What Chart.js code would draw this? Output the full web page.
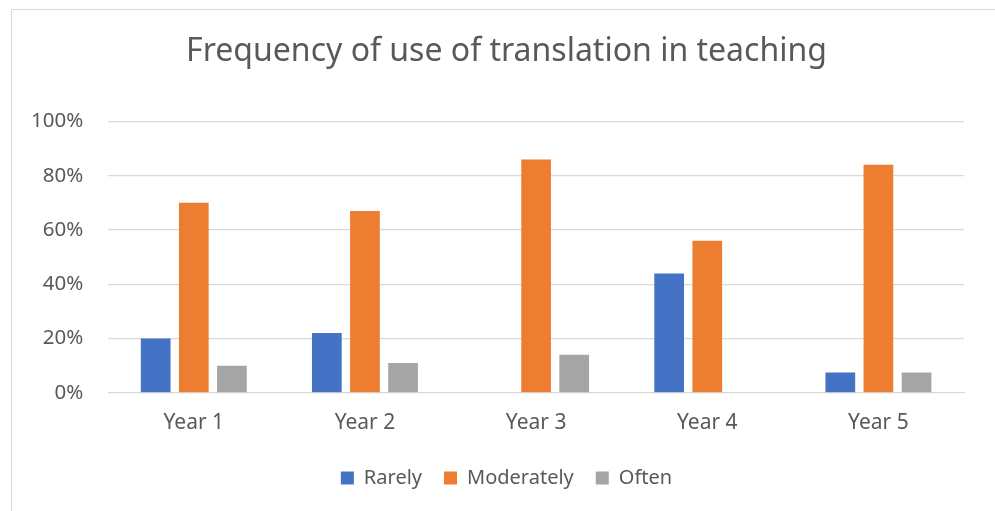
<!DOCTYPE html>
<html>
<head>
<meta charset="utf-8">
<script src="https://cdn.jsdelivr.net/npm/chart.js@4.4.1/dist/chart.umd.min.js"></script>
<style>
    html, body { margin: 0; padding: 0; background: #fff; overflow: hidden; }
    #frame { position: absolute; left: 11px; top: 9px; width: 1000px; height: 520px; border: 1px solid #d9d9d9; }
    #wrap { position: absolute; left: 0; top: 0; width: 1007px; height: 511px; }
</style>
</head>
<body>
<div id="frame"></div>
<div id="wrap"><canvas id="freqChart"></canvas></div>
<script>
const years = ['Year 1', 'Year 2', 'Year 3', 'Year 4', 'Year 5'];
const rarely = [20, 22, 0, 44, 7.5];
const moderately = [70, 67, 86, 56, 84];
const often = [10, 11, 14, 0, 7.5];
const yTicks = [0, 20, 40, 60, 80, 100];

const textColor = '#595959';
const fontFamily = '"Noto Sans", "Open Sans", sans-serif';

document.addEventListener("DOMContentLoaded", function () {
    const ctx = document.getElementById('freqChart').getContext('2d');
    new Chart(ctx, {
        type: 'bar',
        data: {
            labels: years,
            datasets: [
                { label: 'Rarely', data: rarely, backgroundColor: '#4472c4' },
                { label: 'Moderately', data: moderately, backgroundColor: '#ed7d31' },
                { label: 'Often', data: often, backgroundColor: '#a5a5a5' }
            ]
        },
        options: {
            responsive: true,
            maintainAspectRatio: false,
            animation: false,
            categoryPercentage: 0.668,
            barPercentage: 0.78,
            layout: {
                padding: { top: 14, left: 6, right: 0, bottom: 13 }
            },
            scales: {
                x: {
                    grid: { display: false },
                    border: { color: '#d9d9d9', width: 1 },
                    ticks: { color: textColor, font: { family: fontFamily, size: 21 }, padding: 10 }
                },
                y: {
                    min: 0,
                    max: 100,
                    afterBuildTicks: axis => { axis.ticks = yTicks.map(v => ({ value: v })); },
                    grid: { color: '#d9d9d9', lineWidth: 1.3, drawTicks: false },
                    border: { display: false },
                    ticks: {
                        color: textColor,
                        font: { family: fontFamily, size: 20.5 },
                        padding: 25,
                        callback: value => value + '%'
                    }
                },
                // empty right-hand space so title and legend centre like the original frame
                yRight: {
                    position: 'right',
                    grid: { display: false },
                    border: { display: false },
                    ticks: { display: false },
                    afterFit: scale => { scale.width = 43; }
                }
            },
            plugins: {
                title: {
                    display: true,
                    text: 'Frequency of use of translation in teaching',
                    color: textColor,
                    font: { family: fontFamily, size: 32, weight: 'normal' },
                    padding: { top: 19, bottom: 50 }
                },
                legend: {
                    position: 'bottom',
                    labels: {
                        color: textColor,
                        font: { family: fontFamily, size: 20 },
                        boxWidth: 13,
                        boxHeight: 13,
                        padding: 22
                    }
                },
                tooltip: { enabled: false }
            }
        }
    });
});
</script>
</body>
</html>
